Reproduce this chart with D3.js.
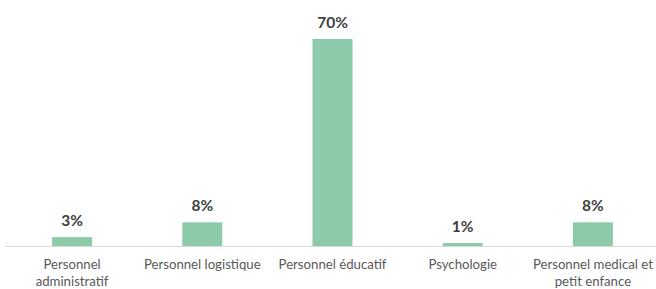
<!DOCTYPE html>
<html><head><meta charset="utf-8">
<script src="https://cdn.jsdelivr.net/npm/d3@7"></script>
<style>body{margin:0;background:#fff}</style>
</head><body>
<svg id="c" width="656" height="289"></svg>
<script>
const categories = [["Personnel","administratif"],["Personnel logistique"],["Personnel éducatif"],["Psychologie"],["Personnel medical et","petit enfance"]];
const values = [3, 8, 70, 1, 8];
const valueLabels = ["3%","8%","70%","1%","8%"];

const svg = d3.select("#c");
const x = d3.scaleBand().domain(d3.range(values.length)).range([7, 658]).padding(0);
const y = d3.scaleLinear().domain([0, 70]).range([246, 39]);
const barW = 40;

svg.append("line").attr("x1", 5).attr("x2", 655).attr("y1", 246.5).attr("y2", 246.5)
  .attr("stroke", "#d9d9d9").attr("stroke-width", 1);

svg.selectAll("rect.bar").data(values).join("rect")
  .attr("x", (d,i) => x(i) + x.bandwidth()/2 - barW/2)
  .attr("y", d => y(d))
  .attr("width", barW)
  .attr("height", d => y(0) - y(d))
  .attr("fill", "#8ccaa9");

svg.selectAll("text.val").data(values).join("text")
  .attr("x", (d,i) => x(i) + x.bandwidth()/2)
  .attr("y", d => y(d) - 11)
  .attr("text-anchor", "middle")
  .attr("font-family", "Lato, 'Open Sans', sans-serif")
  .attr("font-weight", "bold")
  .attr("font-size", 15.5)
  .attr("fill", "#404040")
  .text((d,i) => valueLabels[i]);

const lab = svg.selectAll("text.cat").data(categories).join("text")
  .attr("text-anchor", "middle")
  .attr("font-family", "Lato, 'Open Sans', sans-serif")
  .attr("font-size", 13.2)
  .attr("fill", "#595959");
lab.each(function(d,i){
  const t = d3.select(this);
  d.forEach((line,j) => t.append("tspan")
    .attr("x", x(i) + x.bandwidth()/2)
    .attr("y", 269 + j*17)
    .text(line));
});
</script>
</body></html>
